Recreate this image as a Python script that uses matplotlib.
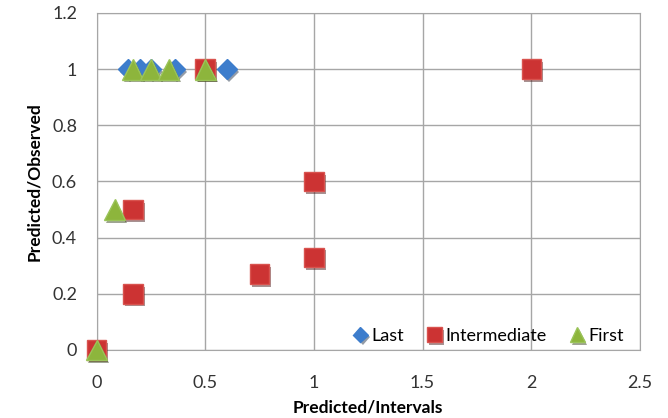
import matplotlib
matplotlib.use("Agg")
import matplotlib.pyplot as plt
import matplotlib.patheffects as pe

# predicted/intervals vs predicted/observed for each stage
last_x = [0.143, 0.2, 0.25, 0.36, 0.6]
last_y = [1, 1, 1, 1, 1]

inter_x = [0, 0.167, 0.167, 0.5, 0.75, 1, 1, 2]
inter_y = [0, 0.5, 0.2, 1, 0.27, 0.33, 0.6, 1]

first_x = [0, 0.083, 0.167, 0.25, 0.333, 0.5]
first_y = [0, 0.5, 1, 1, 1, 1]

plt.rcParams["font.family"] = ["Lato", "DejaVu Sans"]

fig = plt.figure(figsize=(6.68, 4.18), dpi=100)
ax = fig.add_axes([0.1445, 0.1627, 0.8135, 0.8063])

shadow = [pe.SimplePatchShadow(offset=(1.5, -2), alpha=0.45), pe.Normal()]

ax.plot(last_x, last_y, ls="none", marker="D", ms=10, color="#3d7dcc",
        mec="#3d7dcc", label="Last", path_effects=shadow, zorder=3, clip_on=False)
ax.plot(inter_x, inter_y, ls="none", marker="s", ms=14, color="#cc3333",
        mec="#d9534f", mew=1, label="Intermediate", path_effects=shadow,
        zorder=4, clip_on=False)
ax.plot(first_x, first_y, ls="none", marker="^", ms=15, color="#8db53c",
        mec="#9bc45a", mew=1, label="First", path_effects=shadow,
        zorder=5, clip_on=False)

ax.set_xlim(0, 2.5)
ax.set_ylim(0, 1.2)
ax.set_xticks([0, 0.5, 1, 1.5, 2, 2.5])
ax.set_xticklabels(["0", "0.5", "1", "1.5", "2", "2.5"])
ax.set_yticks([0, 0.2, 0.4, 0.6, 0.8, 1, 1.2])
ax.set_yticklabels(["0", "0.2", "0.4", "0.6", "0.8", "1", "1.2"])
ax.tick_params(length=0, labelsize=13, colors="#333333")
ax.tick_params(axis="x", pad=18)
ax.tick_params(axis="y", pad=14)
ax.grid(color="#a6a6a6", lw=1)
ax.set_axisbelow(True)
for s in ax.spines.values():
    s.set_color("#a6a6a6")

ax.set_xlabel("Predicted/Intervals", fontsize=12.5, fontweight="bold", labelpad=6)
ax.set_ylabel("Predicted/Observed", fontsize=12.5, fontweight="bold", labelpad=7)

ax.legend(loc="lower right", ncol=3, frameon=False, fontsize=13,
          handletextpad=0.1, columnspacing=1.2, markerscale=0.75,
          handlelength=1.0, bbox_to_anchor=(1.0, -0.03))

fig.savefig("out.png", dpi=100)
